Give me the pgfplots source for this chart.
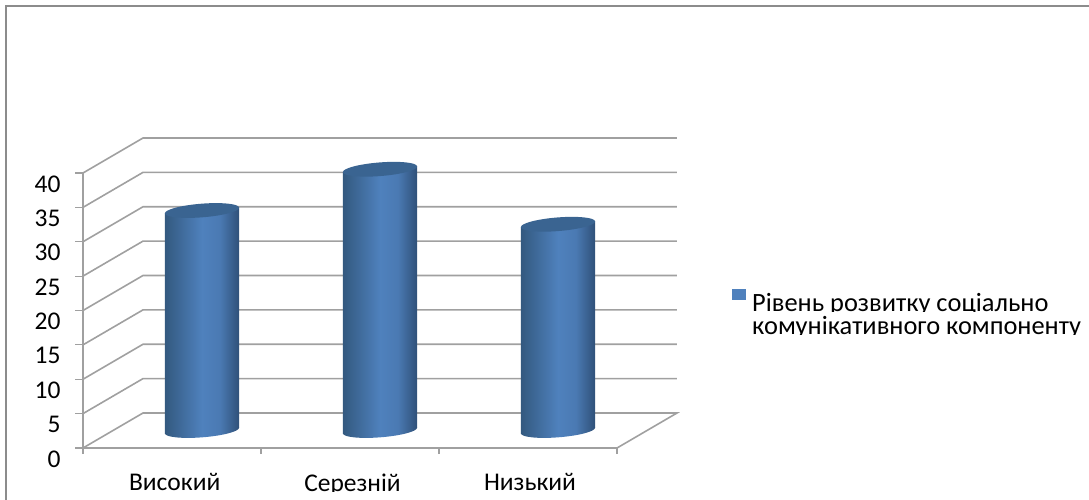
\documentclass[border=0pt]{standalone}
\usepackage{pgfplots}
\pgfplotsset{compat=1.18}
\usepackage{fontspec}
\setmainfont{Carlito}
\definecolor{wallgray}{HTML}{A0A0A0}
\definecolor{framegray}{HTML}{8C8C8C}
\definecolor{capblue}{HTML}{3A6491}
\definecolor{cylmid}{HTML}{4F81BD}
\definecolor{cylleft}{HTML}{33597F}
\definecolor{cylright}{HTML}{2F5078}
\pgfdeclarehorizontalshading{cyl}{100bp}{
  color(0bp)=(cylleft); color(25bp)=(cylleft);
  color(50bp)=(cylmid);
  color(62bp)=(cylmid!85!cylright);
  color(75bp)=(cylright); color(100bp)=(cylright)}
% Tilted end faces of the cylinders
\pgfdeclareplotmark{cyltop}{%
  \pgfsetfillcolor{capblue}%
  \pgfpathellipse{\pgfpointorigin}{\pgfpoint{37.1pt}{2.9pt}}{\pgfpoint{-0.53pt}{6.8pt}}%
  \pgfusepathqfill}
\pgfdeclareplotmark{cylbase}{%
  \pgfpathellipse{\pgfpointorigin}{\pgfpoint{37.1pt}{2.9pt}}{\pgfpoint{-0.53pt}{6.8pt}}%
  \pgfshadepath{cyl}{0}%
  \pgfusepath{discard}}
\begin{document}
\begin{tikzpicture}[x=1pt,y=1pt]
\path[use as bounding box] (0,0) rectangle (1089,499);
\draw[framegray,line width=1.8pt] (6,-5) -- (6,493) -- (1094,493);
\begin{axis}[
  at={(83pt,51pt)}, anchor=origin,
  scale only axis, width=534pt, height=275pt,
  xmin=0, xmax=3, ymin=0, ymax=40,
  clip=false,
  axis lines=left,
  axis line style={-,wallgray,line width=1.6pt},
  tick style={wallgray,line width=1.2pt},
  ytick={0,5,...,40},
  tick align=outside,
  major tick length=8pt,
  minor tick length=6pt,
  xtick={0.515,1.514,2.511},
  xticklabels={Високий,Серезній,Низький},
  minor xtick={0,1,2,3},
  x tick style={draw=none},
  minor x tick style={draw=wallgray,line width=1.2pt},
  tick label style={black},
  xticklabel style={font=\fontsize{25.5}{28}\selectfont,yshift=-14pt},
  yticklabel style={font=\fontsize{25.5}{28}\selectfont,yshift=-11pt,xshift=-11pt},
  /pgf/number format/assume math mode=true,
]
% Back wall, floor edge and left wall
\addplot[wallgray,line width=1.6pt,forget plot,unbounded coords=jump] coordinates {
  (0,0) (0.337,5.09) (3.337,5.09) (3,0) (nan,nan)
  (0,5) (0.337,10.09) (3.337,10.09) (nan,nan)
  (0,10) (0.337,15.09) (3.337,15.09) (nan,nan)
  (0,15) (0.337,20.09) (3.337,20.09) (nan,nan)
  (0,20) (0.337,25.09) (3.337,25.09) (nan,nan)
  (0,25) (0.337,30.09) (3.337,30.09) (nan,nan)
  (0,30) (0.337,35.09) (3.337,35.09) (nan,nan)
  (0,35) (0.337,40.09) (3.337,40.09) (nan,nan)
  (0,40) (0.337,45.09) (3.337,45.09)
};
% Cylinders: base face, sheared body, top face, set half the depth into the floor
\addplot[only marks,mark=cylbase,shift={(30pt,17.5pt)},forget plot] coordinates {(0.5,0) (1.5,0) (2.5,0)};
\addplot[ybar,bar width=74.4pt,draw=none,shade,shading=cyl,shift={(30pt,10.54pt)},yslant=0.0782,forget plot] coordinates {(0.5,32)};
\addplot[ybar,bar width=74.4pt,draw=none,shade,shading=cyl,shift={(30pt,-3.38pt)},yslant=0.0782,forget plot] coordinates {(1.5,38)};
\addplot[ybar,bar width=74.4pt,draw=none,shade,shading=cyl,shift={(30pt,-17.3pt)},yslant=0.0782,forget plot] coordinates {(2.5,30)};
\addplot[only marks,mark=cyltop,shift={(30pt,17.5pt)},forget plot] coordinates {(0.5,32) (1.5,38) (2.5,30)};
\end{axis}
% The category names are trimmed just below their baseline
\fill[white] (20,0) rectangle (1000,7.5);
% Legend
\fill[cylmid] (732,199) rectangle (746,210);
\begin{scope}
\clip (745,188) rectangle (1089,214);
\node[anchor=base west,inner sep=0pt,font=\fontsize{26.4}{28}\selectfont] at (752,188) {Рівень розвитку соціально};
\end{scope}
\begin{scope}
\clip (745,164.5) rectangle (1089,188);
\node[anchor=base west,inner sep=0pt,font=\fontsize{26.4}{28}\selectfont] at (752,165) {комунікативного компоненту};
\end{scope}
\end{tikzpicture}
\end{document}
